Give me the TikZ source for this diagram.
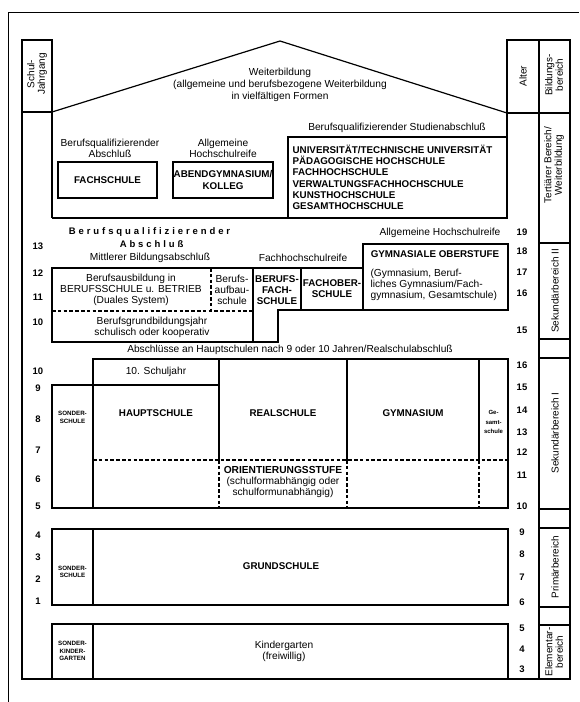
\documentclass[tikz,border=0pt]{standalone}
\usepackage{fontspec}
\setmainfont{Liberation Sans}
\def\spc#1{\spcaux#1\relax}
\def\spcaux#1{\ifx#1\relax\else#1\kern2.9pt\expandafter\spcaux\fi}
\begin{document}
\begin{tikzpicture}[x=1pt,y=-1pt,line width=1.2pt,
  lbl/.style={font=\fontsize{10.2}{11.2}\selectfont,align=center,inner sep=0pt},
  captxt/.style={font=\fontsize{9.8}{11.2}\selectfont\bfseries,align=center,inner sep=0pt},
  capl/.style={font=\fontsize{9.8}{11.3}\selectfont\bfseries,align=left,anchor=west,inner sep=0pt},
  lbll/.style={font=\fontsize{10.2}{11}\selectfont,align=left,anchor=west,inner sep=0pt},
  tinytxt/.style={font=\fontsize{6.2}{7.6}\selectfont\bfseries,align=center,inner sep=0pt},
  smalltxt/.style={font=\fontsize{6}{9.5}\selectfont\bfseries,align=center,inner sep=0pt},
  num/.style={font=\fontsize{9.5}{10}\selectfont\bfseries,inner sep=0pt},
  side/.style={font=\fontsize{10}{10.5}\selectfont,align=center,rotate=90,inner sep=0pt},
  dsh/.style={dash pattern=on 3.5pt off 2.3pt}]
\useasboundingbox (0,0) rectangle (579,702);
\fill[white] (0,0) rectangle (579,702);
% page border
\draw[line width=0.8pt] (8,702) -- (8,12) -- (579,12);
% left column and outer frame
\draw (52,112) -- (22,112) -- (22,40) -- (52,40) -- (52,218);
\draw (22,112) -- (22,679) -- (570,679) -- (570,40) -- (507,40) -- (507,218);
\draw (507,113) -- (570,113);
\draw (539,40) -- (539,679);
% roof and tertiary house
\draw (52,112) -- (280,41) -- (507,113);
\draw (52,218) -- (507,218);
% Bildungsbereich separators
\foreach \yy in {243,339,358,509,528,607,625} \draw (539,\yy) -- (570,\yy);
% headers
\node[side] (hSJ) at (37,74) {Schul-\\Jahrgang};
\node[side] (hAl) at (523,76) {Alter};
\node[side] (hBb) at (554,75) {Bildungs-\\bereich};
\node[side] (bT) at (554,165) {Tertiärer Bereich/\\Weiterbildung};
\node[side] (bS2) at (555,291) {Sekundärbereich II};
\node[side] (bS1) at (555,433) {Sekundärbereich I};
\node[side] (bP) at (555,567) {Primärbereich};
\node[side] (bE) at (554,652) {Elementar-\\bereich};
% roof text
\node[lbl,font=\fontsize{10.2}{12}\selectfont] (wb) at (280,85) {Weiterbildung\\(allgemeine und berufsbezogene Weiterbildung\\in vielfältigen Formen};
% tertiary
\node[lbl] (t1) at (110,148) {Berufsqualifizierender\\Abschluß};
\node[lbl] (t2) at (223,148) {Allgemeine\\Hochschulreife};
\node[lbl] (t3) at (397,128) {Berufsqualifizierender Studienabschluß};
\draw (58,162) rectangle (157,198);
\node[captxt] (fs) at (107.5,180) {FACHSCHULE};
\draw (173,162) rectangle (273,198);
\node[captxt] (ag) at (223,180) {ABENDGYMNASIUM/\\KOLLEG};
\draw (288,137) rectangle (507,218);
\node[capl] (uni) at (292,177.5) {UNIVERSITÄT/TECHNISCHE UNIVERSITÄT\\PÄDAGOGISCHE HOCHSCHULE\\FACHHOCHSCHULE\\VERWALTUNGSFACHHOCHSCHULE\\KUNSTHOCHSCHULE\\GESAMTHOCHSCHULE};
% Sekundarbereich II
\node[font=\fontsize{9.5}{11.2}\selectfont\bfseries,inner sep=0pt] (bq1) at (151,232) {\spc{Berufsqualifizierender}};
\node[font=\fontsize{9.5}{11.2}\selectfont\bfseries,inner sep=0pt] (bq2) at (153,244) {\spc{Abschluß}};
\node[lbl] (mb) at (150,258) {Mittlerer Bildungsabschluß};
\node[lbl] (fhr) at (303,258) {Fachhochschulreife};
\node[lbl] (ahr) at (440,233) {Allgemeine Hochschulreife};
\draw (52,268) rectangle (253,342);
\draw[dsh] (52,311) -- (253,311);
\draw[dsh] (211,268) -- (211,311);
\node[lbl] (ba) at (131,290) {Berufsausbildung in\\BERUFSSCHULE u. BETRIEB\\(Duales System)};
\node[lbl] (bau) at (232,290) {Berufs-\\aufbau-\\schule};
\node[lbl] (bgj) at (152,327) {Berufsgrundbildungsjahr\\schulisch oder kooperativ};
\draw (253,268) -- (301,268) -- (301,310) -- (278,310) -- (278,342) -- (253,342);
\node[captxt] (bfs) at (277,290) {BERUFS-\\FACH-\\SCHULE};
\draw (301,268) rectangle (363,310);
\node[captxt] (fos) at (332,289) {FACHOBER-\\SCHULE};
\draw (363,244) rectangle (508,310);
\node[captxt] (go) at (435,254) {GYMNASIALE OBERSTUFE};
\node[lbll] (go2) at (370,285) {(Gymnasium, Beruf-\\liches Gymnasium/Fach-\\gymnasium, Gesamtschule)};
\node[lbl] (abs) at (290,350) {Abschlüsse an Hauptschulen nach 9 oder 10 Jahren/Realschulabschluß};
% Sekundarbereich I
\draw (52,385) -- (93,385) -- (93,359) -- (508,359) -- (508,508) -- (52,508) -- cycle;
\draw (93,385) -- (93,508);
\draw (93,385) -- (219,385);
\draw (219,359) -- (219,460);
\draw (347,359) -- (347,460);
\draw (479,359) -- (479,460);
\draw[dsh] (93,460) -- (508,460);
\draw[dsh] (219,460) -- (219,508);
\draw[dsh] (347,460) -- (347,508);
\draw[dsh] (479,460) -- (479,508);
\node[lbl] (s10) at (156,372) {10. Schuljahr};
\node[tinytxt] (so1) at (72.5,417.5) {SONDER-\\SCHULE};
\node[captxt] (hs) at (156,413) {HAUPTSCHULE};
\node[captxt] (rs) at (283,413) {REALSCHULE};
\node[captxt] (gy) at (413,413) {GYMNASIUM};
\node[smalltxt] (ges) at (493.5,422) {Ge-\\samt-\\schule};
\node[lbl] (os) at (283,482) {\textbf{ORIENTIERUNGSSTUFE}\\(schulformabhängig oder\\schulformunabhängig)};
% Primarbereich
\draw (52,529) rectangle (508,605);
\draw (93,529) -- (93,605);
\node[tinytxt] (so2) at (72.5,572) {SONDER-\\SCHULE};
\node[captxt] (gs) at (281,566) {GRUNDSCHULE};
% Elementarbereich
\draw (52,624) rectangle (508,679);
\draw (93,624) -- (93,679);
\node[tinytxt] (sk) at (72.5,651) {SONDER-\\KINDER-\\GARTEN};
\node[lbl] (kg) at (284,651) {Kindergarten\\(freiwillig)};
% Schuljahrgang numbers
\foreach \t/\yy [count=\i] in {13/246,12/273,11/297,10/322,10/371,9/388,8/419,7/450,6/479,5/506,4/535,3/557,2/579,1/601}
  \node[num] (L\i) at (38,\yy) {\t};
% Alter numbers
\foreach \t/\yy [count=\i] in {19/232,18/251,17/272,16/293,15/330,16/365,15/387,14/410,13/432,12/452,11/475,10/506,9/532,8/554,7/577,6/602,5/628,4/649,3/669}
  \node[num] (R\i) at (522,\yy) {\t};
\end{tikzpicture}
\end{document}
